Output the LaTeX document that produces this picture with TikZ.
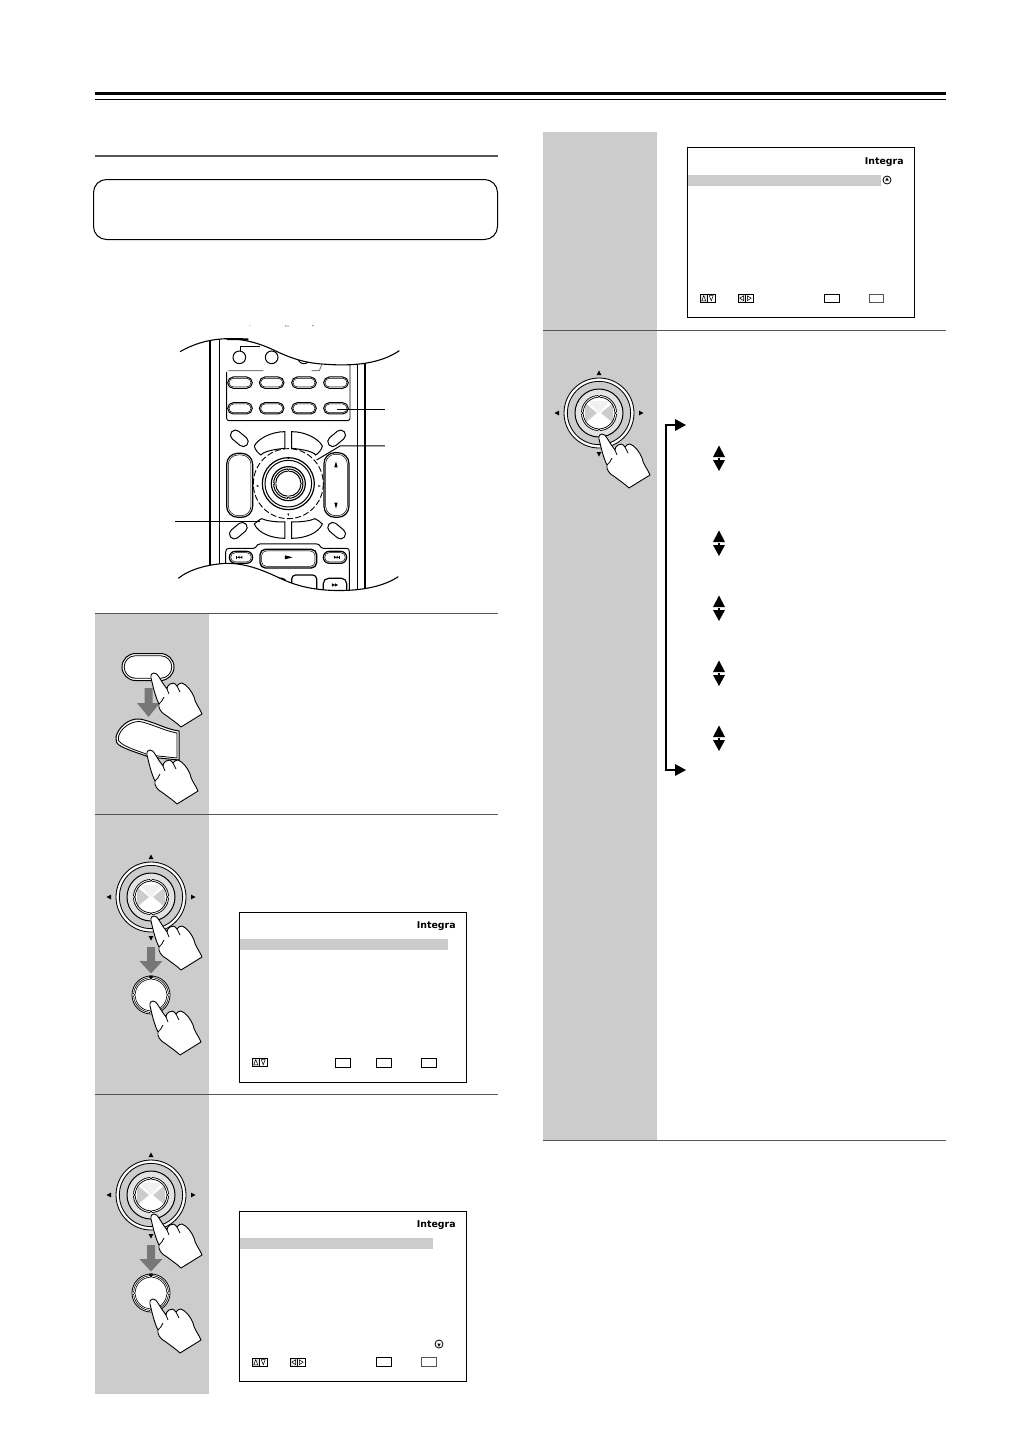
\documentclass[tikz,border=0pt]{standalone}
\usepackage{fontspec}
\newfontfamily\logofont{DejaVu Sans}
\definecolor{panel}{HTML}{CCCCCC}
\definecolor{rule}{HTML}{555555}
\definecolor{arrowgray}{HTML}{777777}
\newcommand{\fingerhand}[2]{%
  \begin{scope}[shift={(#1,#2)}]
    \draw[fill=white,line width=.45pt,line join=round]
      (-3,3) .. controls (-1,11) and (1,21) .. (5,29)
      .. controls (4,33) and (7,38) .. (13,41)
      .. controls (18,45) and (23,48) .. (27,52)
      -- (48,39) .. controls (45,32) and (41,28) .. (40,22)
      .. controls (37,15) and (33,10) .. (28,8)
      .. controls (26,8) and (24,9) .. (23,11)
      .. controls (21,8) and (18,7) .. (16,9)
      .. controls (14,10) and (13,12) .. (13,14)
      .. controls (10,10) and (8,7) .. (5,2)
      .. controls (3,-3) and (-4,-4) .. (-3,3) -- cycle;
    \draw[line width=.4pt] (13,14) -- (15,19) (23,11) -- (26,17) (5,29) .. controls (7,27) and (9,25) .. (10,22);
  \end{scope}}
\newcommand{\downarrowgray}[4]{% x y headstart tip
  \fill[arrowgray] (#1-4,#2) -- (#1+4,#2) -- (#1+4,#2+#3) -- (#1+11.5,#2+#3) -- (#1,#2+#4) -- (#1-11.5,#2+#3) -- (#1-4,#2+#3) -- cycle;}
\newcommand{\tri}[4]{% x y dx dy
  \fill[black] (#1+#3,#2+#4) -- (#1-#4*.8-#3*.5,#2+#3*.8-#4*.5) -- (#1+#4*.8-#3*.5,#2-#3*.8-#4*.5) -- cycle;}
\newcommand{\pillp}[4]{(#1-#3,#2-#4) -- (#1+#3,#2-#4) arc (-90:90:#4) -- (#1-#3,#2+#4) arc (90:270:#4) -- cycle}
\newcommand{\wheel}[2]{%
  \begin{scope}[shift={(#1,#2)}]
    \draw[line width=.4pt] (0,0) circle (35);
    \draw[white,line width=.9pt] (0,0) circle (33.2);
    \draw[line width=.4pt] (0,0) circle (31.6);
    \draw[line width=.5pt,fill=panel!55!white] (0,0) circle (24);
    \fill[white] (0,0) circle (17);
    \fill[panel!30!white] (-11,-12) -- (11,-12) -- (0,0) -- cycle;
    \fill[panel] (-14,-10) -- (-14,10) -- (-2,0) -- cycle;
    \fill[panel] (14,-10) -- (14,10) -- (2,0) -- cycle;
    \draw[line width=.35pt] (0,0) circle (17.6);
    \draw[line width=.35pt] (0,0) circle (15.8);
    \foreach \a in {0,90,180,270}{
      \fill[white] (\a:16.8) circle (1.6);
      \draw[line width=.35pt] (\a:17.8) ++(\a+90:1.6) arc (\a+90:\a+270:1.6);
    }
  \end{scope}
  \tri{#1}{#2-39.5}{0}{-3}
  \tri{#1}{#2+40.5}{0}{3}
  \tri{#1-41.5}{#2}{-3}{0}
  \tri{#1+41.5}{#2}{3}{0}}
\newcommand{\knob}[2]{%
  \begin{scope}[shift={(#1,#2)}]
    \draw[line width=.4pt,fill=white] (0,0) circle (19);
    \draw[line width=.3pt] (0,0) circle (17.4);
    \draw[line width=.3pt] (0,0) circle (15.8);
    \foreach \a in {0,180,90,270}{
      \fill[white] (\a:16.8) circle (1.8);
      \draw[line width=.3pt] (\a:18) ++(\a+90:1.7) arc (\a+90:\a+270:1.7);
    }
  \end{scope}
  \tri{#1}{#2-18}{0}{2.6}}
\newcommand{\screenbox}[7]{% left top right bottom hltop hlbottom hlright
  \draw[line width=.5pt,fill=white] (#1,#2) rectangle (#3,#4);
  \fill[panel] (#1+.5,#5) rectangle (#7,#6);}
\newcommand{\updown}[2]{%
  \fill[panel!50] (#1,#2) rectangle ++(7.5,8.4);
  \draw[line width=.25pt] (#1,#2) rectangle ++(15,8.4);
  \draw[line width=.25pt] (#1+7.5,#2) -- ++(0,8.4);
  \draw[line width=.25pt,fill=white] (#1+1.8,#2+6.8) -- (#1+5.7,#2+6.8) -- (#1+3.75,#2+1.6) -- cycle;
  \draw[line width=.25pt,fill=white] (#1+9.3,#2+1.6) -- (#1+13.2,#2+1.6) -- (#1+11.25,#2+6.8) -- cycle;}
\newcommand{\leftright}[2]{%
  \fill[panel!50] (#1,#2) rectangle ++(7.5,8.4);
  \draw[line width=.25pt] (#1,#2) rectangle ++(15,8.4);
  \draw[line width=.25pt] (#1+7.5,#2) -- ++(0,8.4);
  \draw[line width=.25pt,fill=white] (#1+5.7,#2+1.8) -- (#1+5.7,#2+6.6) -- (#1+1.8,#2+4.2) -- cycle;
  \draw[line width=.25pt,fill=white] (#1+9.3,#2+1.8) -- (#1+9.3,#2+6.6) -- (#1+13.2,#2+4.2) -- cycle;}
\newcommand{\dblarrow}[2]{%
  \fill[black] (#1,#2-12.5) -- (#1+6,#2-1) -- (#1-6,#2-1) -- cycle;
  \fill[black] (#1,#2+13) -- (#1+6,#2+2) -- (#1-6,#2+2) -- cycle;
  \fill[black] (#1-.8,#2) rectangle (#1+.8,#2+3);}
\tikzset{
  x=.5pt,y=-.5pt,
  rline/.style={line width=.45pt},
  thinrule/.style={draw=rule,line width=.7pt},
  logo/.style={inner sep=0pt,anchor=east,font=\logofont\bfseries\fontsize{4.7}{5}\selectfont},
  bracket/.style={line width=1pt,line join=miter},
  head/.style={fill=black}
}
\begin{document}
\begin{tikzpicture}
\useasboundingbox (0,0) rectangle (1030,1456);
% header
\fill[black] (95,92) rectangle (946,95.4);
\fill[black] (95,98.8) rectangle (946,100.2);
\draw[draw=rule,line width=1pt] (95,156) -- (498,156);
\draw[line width=.5pt,fill=white,rounded corners=6.5] (93.5,179.5) rectangle (497.5,239.5);
% gray panels
\fill[panel] (95,614) rectangle (209,814);
\fill[panel] (95,815) rectangle (209,1094);
\fill[panel] (95,1095) rectangle (209,1394);
\fill[panel] (543,132) rectangle (657,330);
\fill[panel] (543,331) rectangle (657,1140);
\draw[thinrule] (95,613.5) -- (498,613.5);
\draw[thinrule] (95,814.5) -- (498,814.5);
\draw[thinrule] (95,1094.5) -- (498,1094.5);
\draw[thinrule] (543,330.5) -- (946,330.5);
\draw[thinrule] (543,1140.5) -- (946,1140.5);
% remote (zoom coordinates)
\begin{scope}[shift={(160,320)},scale=.3333]
  \draw[line width=.8pt] (150,40) -- (150,760) (178,40) -- (178,760) (592,100) -- (592,830) (615,100) -- (615,830);
  \foreach \cx in {238,335,432}{\draw[line width=.5pt,fill=white] (\cx,112) circle (19);}
  \draw[rline] (240,93) -- (240,80) -- (300,80);
  \draw[draw=gray,line width=.5pt] (205,152) -- (310,152) (455,152) -- (478,152) -- (485,135);
  \draw[rline,rounded corners=1.2pt] (200,156) -- (200,302) -- (570,302) -- (570,135);
  \foreach \cy in {188,265}\foreach \cx in {240,335,432,528}{
    \draw[line width=.5pt,fill=white] \pillp{\cx}{\cy}{20}{17};
    \draw[line width=.25pt] \pillp{\cx}{\cy}{20}{13};}
  % slanted buttons
  \foreach \cx/\cy/\ang in {238/355/-40,530/355/40,235/632/40,530/632/-40}{
    \draw[line width=.5pt,fill=white,rotate around={\ang:(\cx,\cy)},rounded corners=2.4pt] (\cx-30,\cy-15) rectangle (\cx+30,\cy+15);}
  % crescents
  \foreach \m/\o in {1/0,-1/770}{
    \begin{scope}[shift={(\o,0)},xscale=\m]
    \draw[line width=.5pt,fill=white] (283,378) .. controls (295,355) and (335,335) .. (375,335) -- (375,385) .. controls (340,388) and (310,395) .. (303,405) .. controls (295,400) and (285,390) .. (283,378) -- cycle;
    \draw[line width=.5pt,fill=white] (283,612) .. controls (290,604) and (298,600) .. (305,596) .. controls (320,603) and (345,606) .. (375,606) -- (375,655) .. controls (335,655) and (295,640) .. (283,612) -- cycle;
    \end{scope}}
  % vertical pills
  \draw[line width=.6pt,fill=white,rounded corners=5.5pt] (200,400) rectangle (278,592);
  \draw[line width=.25pt,rounded corners=4.8pt] (205,405) rectangle (273,587);
  \draw[line width=.6pt,fill=white,rounded corners=5.5pt] (492,398) rectangle (567,592);
  \draw[line width=.25pt,rounded corners=4.8pt] (497,403) rectangle (562,587);
  \fill[black] (528,424) -- (533,442) -- (523,442) -- cycle;
  \fill[black] (528,566) -- (533,548) -- (523,548) -- cycle;
  % dial
  \draw[line width=.45pt,dash pattern=on 3pt off 1.2pt] (385,491) circle (105);
  \draw[line width=.6pt] (385,491) circle (78);
  \draw[line width=.5pt] (385,491) circle (70);
  \draw[line width=.6pt] (385,491) circle (51);
  \draw[line width=.5pt] (385,491) circle (44);
  \draw[line width=.5pt] (385,491) circle (38);
  \foreach \a in {0,90,180,270}{\fill[white] (385,491) ++(\a:41) circle (5); \draw[line width=.4pt] (385,491) ++(\a:44) ++(\a+90:4) arc (\a+90:\a+270:4);}
  \fill[black] (385,410) -- (388,417) -- (382,417) -- cycle;
  \fill[black] (385,588) -- (388,581) -- (382,581) -- cycle;
  \fill[black] (288,498) -- (295,495) -- (295,501) -- cycle;
  \fill[black] (482,498) -- (475,495) -- (475,501) -- cycle;
  % transport
  \draw[line width=.5pt] (197,760) -- (197,696) .. controls (197,688) and (200,685) .. (208,685) -- (280,685) .. controls (292,684) and (288,672) .. (300,672) -- (470,672) .. controls (482,672) and (478,684) .. (490,685) -- (560,685) .. controls (566,685) and (568,688) .. (568,696) -- (568,820);
  \foreach \cx in {243,525}{
    \draw[line width=.6pt,fill=white] \pillp{\cx}{712}{17}{18};
    \draw[line width=.25pt] \pillp{\cx}{712}{17}{14};}
  \draw[line width=.7pt,fill=white,rounded corners=2.7pt] (300,688) rectangle (470,744);
  \draw[line width=.25pt,rounded corners=2.3pt] (305,693) rectangle (465,739);
  \fill[black] (398,712) -- (375,706) -- (375,718) -- cycle;
  \draw[line width=.6pt,fill=white,rounded corners=2pt] (300,775) rectangle (378,830);
  \draw[line width=.6pt,fill=white,rounded corners=2pt] (395,765) rectangle (470,830);
  \draw[line width=.6pt,fill=white,rounded corners=2.6pt] (490,775) rectangle (560,825);
  \fill[black] (228,708) rectangle (231,716);
  \fill[black] (231,712) -- (239,708) -- (239,716) -- cycle (239,712) -- (247,708) -- (247,716) -- cycle;
  \fill[black] (541,708) rectangle (538,716);
  \fill[black] (538,712) -- (530,708) -- (530,716) -- cycle (530,712) -- (522,708) -- (522,716) -- cycle;
  \fill[black] (525,795) -- (516,790) -- (516,800) -- cycle (534,795) -- (525,790) -- (525,800) -- cycle;
  % leaders
  \draw[line width=.5pt] (530,268) -- (675,268);
  \draw[line width=.5pt] (470,420) -- (540,378) -- (675,378);
  \draw[line width=.5pt] (45,605) -- (300,605);
  % top and bottom masks with wave curves
  \fill[white] (40,-10) -- (40,98) -- (60,95) .. controls (95,75) and (140,58) .. (200,56) .. controls (250,56) and (300,70) .. (345,92) .. controls (400,118) and (440,130) .. (500,133) .. controls (600,140) and (670,125) .. (718,92) -- (730,80) -- (730,-10) -- cycle;
  \fill[white] (40,850) -- (40,778) -- (55,775) .. controls (85,750) and (140,733) .. (200,730) .. controls (260,730) and (310,752) .. (350,770) .. controls (400,795) and (450,808) .. (510,811) .. controls (600,815) and (670,800) .. (715,770) -- (730,760) -- (730,850) -- cycle;
  \draw[line width=.55pt] (60,95) .. controls (95,75) and (140,58) .. (200,56) .. controls (250,56) and (300,70) .. (345,92) .. controls (400,118) and (440,130) .. (500,133) .. controls (600,140) and (670,125) .. (718,92);
  \draw[line width=.55pt] (55,775) .. controls (85,750) and (140,733) .. (200,730) .. controls (260,730) and (310,752) .. (350,770) .. controls (400,795) and (450,808) .. (510,811) .. controls (600,815) and (670,800) .. (715,770);
  \draw[line width=1pt] (200,57) -- (265,58);
  \draw[gray,line width=.4pt] (268,16) -- (271,16) (375,16) -- (379,20) (383,16) -- (385,20) (457,18) -- (461,16);
\end{scope}
% step 1
\draw[line width=.5pt,fill=white] \pillp{148}{667}{12.5}{13.5};
\draw[line width=.4pt] \pillp{148}{667}{12.5}{11.3};
\downarrowgray{148.5}{688}{15}{29}
\fingerhand{154}{675}
\draw[line width=.5pt,fill=white] (116,737) .. controls (118,728) and (128,718) .. (140,719) .. controls (155,722) and (165,729) .. (179,731) -- (179,760) -- (149,757) .. controls (135,752) and (125,749) .. (119,745) .. controls (116,743) and (116,740) .. (116,737) -- cycle;
\draw[line width=.4pt] (118.5,737) .. controls (120,729) and (130,721) .. (140,721.5) .. controls (152,724) and (165,731) .. (177,733) -- (177,758) -- (149,755) .. controls (135,750) and (126,747) .. (121,743) .. controls (118.5,742) and (118,740) .. (118.5,737) -- cycle;
\fingerhand{150}{752}
% step 2
\wheel{151}{897}
\downarrowgray{151}{947}{14}{26.5}
\fingerhand{154}{918}
\knob{151}{995}
\fingerhand{153}{1003}
\screenbox{239.5}{912.5}{466.5}{1082}{939}{950}{448}
\node[logo] (logoa) at (456,926.5) {Integra};
\updown{252}{1058}
\draw[line width=.5pt] (335,1058) rectangle (350,1067) (376,1058) rectangle (391,1067) (421,1058) rectangle (436,1067);
% step 3
\wheel{151}{1195}
\downarrowgray{151}{1245}{14}{26.5}
\fingerhand{154}{1216}
\knob{151}{1293}
\fingerhand{153}{1301}
\screenbox{239.5}{1211.5}{466.5}{1381.5}{1238}{1249}{433}
\node[logo] (logob) at (456,1225.5) {Integra};
\updown{252}{1358}
\leftright{290}{1358}
\draw[line width=.5pt] (376,1357.5) rectangle (391,1366);
\draw[line width=.4pt,draw=rule] (421,1357.5) rectangle (436,1366);
\draw[line width=.4pt] (439,1344) circle (4);
\tri{439}{1344.6}{0}{2.2}
% right column screen
\screenbox{687.5}{147.5}{914.5}{317}{175}{186}{881}
\node[logo] (logoc) at (904,162.5) {Integra};
\updown{700}{294}
\leftright{738}{294}
\draw[line width=.5pt] (824,294) rectangle (839,302.5);
\draw[line width=.4pt,draw=rule] (869,294) rectangle (883.5,302.5);
\draw[line width=.4pt] (887,180) circle (4);
\tri{887}{179.6}{0}{-2.2}
% right wheel
\wheel{599}{413}
\fingerhand{602}{436}
% bracket
\coordinate (brtop) at (675,425);
\coordinate (brbot) at (675,770);
\draw[bracket] (brtop) -- (666,425) -- (666,770) -- (brbot);
\fill[head] (686,425) -- (675,419) -- (675,431) -- cycle;
\fill[head] (686,770) -- (675,764) -- (675,776) -- cycle;
\dblarrow{719}{458}
\dblarrow{719}{543}
\dblarrow{719}{608}
\dblarrow{719}{673}
\dblarrow{719}{738}
\end{tikzpicture}
\end{document}
